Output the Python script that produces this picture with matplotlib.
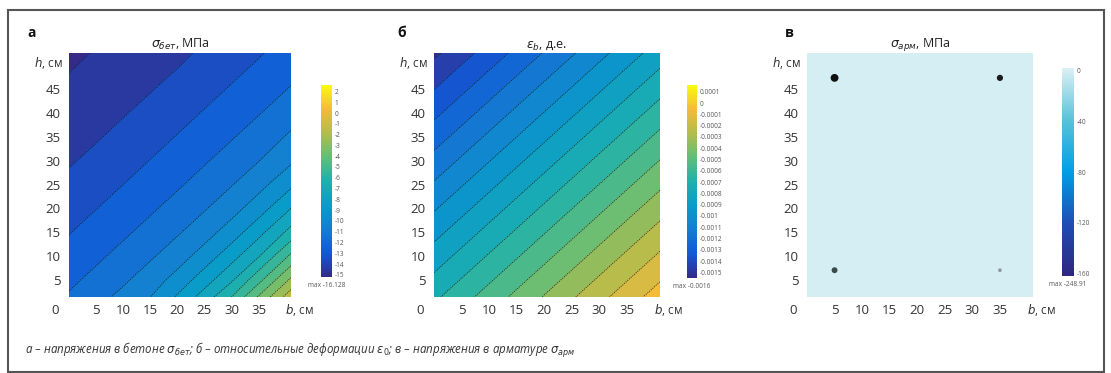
import numpy as np
import matplotlib
matplotlib.use("Agg")
import matplotlib.pyplot as plt
from matplotlib.colors import LinearSegmentedColormap, Normalize
from matplotlib.cm import ScalarMappable
from matplotlib.patches import Rectangle

plt.rcParams['font.family'] = ['Open Sans', 'DejaVu Sans']
plt.rcParams['mathtext.fontset'] = 'dejavusans'

# ---------------- data ----------------
x_ticks = [5, 10, 15, 20, 25, 30, 35]
y_ticks = [5, 10, 15, 20, 25, 30, 35, 40, 45]

# panel a: concrete stress field (MPa) read on grid
b_grid = [0, 5, 10, 15, 20, 25, 30, 35, 41]
h_grid = [1.5, 5, 10, 15, 20, 25, 30, 35, 40, 45, 50, 52.5]
sigma_concrete = [
    [-11.89, -11.34, -10.72, -10.01, -8.88, -7.56, -6.00, -3.90, -1.38],
    [-12.21, -11.71, -11.16, -10.48, -9.63, -8.44, -7.13, -5.30, -2.78],
    [-12.62, -12.19, -11.68, -11.13, -10.44, -9.57, -8.38, -7.06, -4.78],
    [-13.04, -12.60, -12.17, -11.66, -11.11, -10.41, -9.52, -8.31, -6.65],
    [-13.41, -13.02, -12.58, -12.15, -11.63, -11.08, -10.38, -9.47, -7.99],
    [-13.78, -13.39, -13.00, -12.56, -12.13, -11.61, -11.05, -10.34, -9.20],
    [-14.10, -13.76, -13.37, -12.98, -12.54, -12.10, -11.58, -11.03, -10.16],
    [-14.34, -14.09, -13.74, -13.35, -12.96, -12.52, -12.08, -11.55, -10.85],
    [-14.59, -14.33, -14.07, -13.72, -13.33, -12.94, -12.50, -12.06, -11.42],
    [-14.83, -14.58, -14.32, -14.06, -13.70, -13.31, -12.92, -12.48, -11.94],
    [-15.08, -14.82, -14.56, -14.31, -14.05, -13.69, -13.30, -12.90, -12.37],
    [-15.20, -14.94, -14.69, -14.43, -14.17, -13.87, -13.48, -13.09, -12.58],
]
sigma_levels = [-16, -15, -14, -13, -12, -11, -10, -9, -8, -7, -6, -5, -4, -3, -2, -1, 0, 1, 2, 3]
sigma_cbar_ticks = [2, 1, 0, -1, -2, -3, -4, -5, -6, -7, -8, -9, -10, -11, -12, -13, -14, -15]

# panel b: relative strain field (planar), corner values
b_strain = [0, 41]
h_strain = [1.5, 52.5]
eps_strain = [
    [-0.00072, -0.00005],
    [-0.00152, -0.00085],
]
eps_levels = [-0.0016, -0.0015, -0.0014, -0.0013, -0.0012, -0.0011, -0.0010, -0.0009,
              -0.0008, -0.0007, -0.0006, -0.0005, -0.0004, -0.0003, -0.0002, -0.0001,
              0.0, 0.0001, 0.0002]
eps_cbar_ticks = [0.0001, 0.0, -0.0001, -0.0002, -0.0003, -0.0004, -0.0005, -0.0006,
                  -0.0007, -0.0008, -0.0009, -0.0010, -0.0011, -0.0012, -0.0013,
                  -0.0014, -0.0015]

# panel c: reinforcement stress
steel_background = [[0.0]]
rebar_b = [5, 35, 5, 35]
rebar_h = [47.3, 47.3, 7.1, 7.1]
steel_cbar_ticks = [0, -40, -80, -120, -160]

# ---------------- colormaps ----------------
parula = LinearSegmentedColormap.from_list('parula', [
    (0.000, (0.208, 0.166, 0.529)),
    (0.125, (0.070, 0.350, 0.840)),
    (0.250, (0.078, 0.490, 0.820)),
    (0.375, (0.040, 0.610, 0.790)),
    (0.500, (0.120, 0.690, 0.680)),
    (0.625, (0.380, 0.745, 0.470)),
    (0.750, (0.700, 0.740, 0.300)),
    (0.875, (0.960, 0.730, 0.230)),
    (1.000, (0.976, 0.983, 0.054)),
])
steel_cmap = LinearSegmentedColormap.from_list('steel', [
    (0.00, (0.18, 0.15, 0.50)),
    (0.25, (0.12, 0.30, 0.70)),
    (0.50, (0.00, 0.62, 0.90)),
    (0.75, (0.35, 0.76, 0.85)),
    (1.00, (0.86, 0.94, 0.96)),
])

W, H = 1111, 373
fig = plt.figure(figsize=(W / 100, H / 100), dpi=100)


def px_axes(x0, y0, x1, y1):
    return fig.add_axes([x0 / W, 1 - y1 / H, (x1 - x0) / W, (y1 - y0) / H])


tick_col = '#333333'


def style(ax, title):
    ax.set_xlim(0, 41)
    ax.set_ylim(1.5, 52.5)
    ax.set_xticks(x_ticks)
    ax.set_yticks(y_ticks)
    ax.tick_params(length=0, labelsize=9.5, colors=tick_col)
    ax.tick_params(axis='y', pad=6)
    ax.tick_params(axis='x', pad=5)
    for s in ax.spines.values():
        s.set_visible(False)
    ax.set_title(title, fontsize=9, pad=4, color='#222222')
    ax.annotate('0', xy=(0, 0), xycoords='axes fraction', xytext=(-14, -13),
                textcoords='offset pixels', ha='center', va='center',
                fontsize=9.5, color=tick_col)
    ax.annotate('$h$, см', xy=(0, 50.5), xycoords=('axes fraction', 'data'),
                xytext=(-6, 0), textcoords='offset pixels', ha='right',
                va='center', fontsize=8.5, color=tick_col)
    ax.annotate('$b$, см', xy=(1, 0), xycoords='axes fraction', xytext=(8, -13),
                textcoords='offset pixels', ha='center', va='center',
                fontsize=8.5, color=tick_col)


def style_cbar(cb, cax, ticks, labels, note):
    cb.outline.set_visible(False)
    cb.set_ticks(ticks)
    cb.set_ticklabels(labels)
    cax.tick_params(length=0, labelsize=4.7, colors='#555555', pad=2)
    cax.text(0.5, -0.025, note, transform=cax.transAxes, ha='center', va='top',
             fontsize=4.7, color='#555555')


line_kw = dict(colors='#111111', linewidths=0.6, linestyles=[(0, (1.5, 1.2))], alpha=0.8)

# panel a
ax_a = px_axes(69, 53, 291, 297)
norm_a = Normalize(vmin=-15.2, vmax=2.6)
ax_a.contourf(b_grid, h_grid, sigma_concrete, levels=sigma_levels, cmap=parula, norm=norm_a)
ax_a.contour(b_grid, h_grid, sigma_concrete, levels=sigma_levels, **line_kw)
style(ax_a, r'$\sigma_{бет}$, МПа')
cax_a = px_axes(321, 85, 332, 277)
cb_a = fig.colorbar(ScalarMappable(norm=norm_a, cmap=parula), cax=cax_a)
style_cbar(cb_a, cax_a, sigma_cbar_ticks, [str(t) for t in sigma_cbar_ticks], 'max -16.128')

# panel b
ax_b = px_axes(434, 53, 660, 297)
norm_b = Normalize(vmin=-0.00155, vmax=0.00016)
ax_b.contourf(b_strain, h_strain, eps_strain, levels=eps_levels, cmap=parula, norm=norm_b)
ax_b.contour(b_strain, h_strain, eps_strain, levels=eps_levels, **line_kw)
style(ax_b, r'$\varepsilon_{b}$, д.е.')
cax_b = px_axes(687, 85, 697, 278)
cb_b = fig.colorbar(ScalarMappable(norm=norm_b, cmap=parula), cax=cax_b)
style_cbar(cb_b, cax_b, eps_cbar_ticks, ['{:g}'.format(round(t, 4)) for t in eps_cbar_ticks],
           'max -0.0016')

# panel c
ax_c = px_axes(807, 53, 1033, 297)
norm_c = Normalize(vmin=-162, vmax=2)
ax_c.pcolormesh([0, 41], [1.5, 52.5], steel_background, cmap=steel_cmap, norm=norm_c)
ax_c.scatter(rebar_b, rebar_h, s=[32, 20, 18, 7],
             c=['#111111', '#1a1a1a', '#3a4a4a', '#8a9a9c'], zorder=3, linewidths=0)
style(ax_c, r'$\sigma_{арм}$, МПа')
cax_c = px_axes(1062, 68, 1074, 276)
cb_c = fig.colorbar(ScalarMappable(norm=norm_c, cmap=steel_cmap), cax=cax_c)
style_cbar(cb_c, cax_c, steel_cbar_ticks, [str(t) for t in steel_cbar_ticks], 'max -248.91')

# panel letters
for x, letter in [(27, 'а'), (397, 'б'), (785, 'в')]:
    fig.text(x / W, 1 - 33 / H, letter, fontsize=10, fontweight='bold',
             ha='left', va='center', color='#111111')

caption = (r'а – напряжения в бетоне $\sigma_{бет}$; б – относительные деформации '
           r'$\varepsilon_0$; в – напряжения в арматуре $\sigma_{арм}$')
fig.text(25 / W, 1 - 350 / H, caption, fontsize=8.3, style='italic', ha='left',
         va='center', color='#333333')

fig.add_artist(Rectangle((8 / W, 1 - 372 / H), (1104 - 8) / W, (372 - 10) / H,
                         transform=fig.transFigure, fill=False, lw=1.5, ec='#555555'))

fig.savefig('out.png', dpi=100)
